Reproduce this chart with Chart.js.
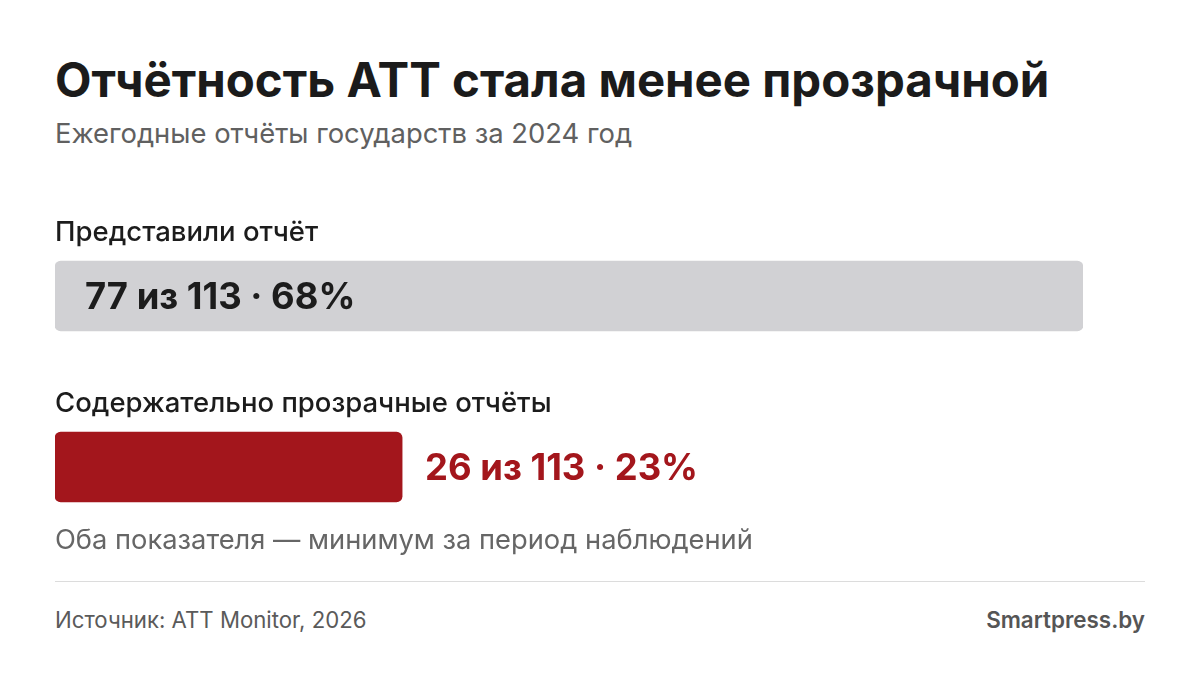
<!DOCTYPE html>
<html lang="ru">
<head>
<meta charset="utf-8">
<script src="https://cdn.jsdelivr.net/npm/chart.js@4.4.1/dist/chart.umd.min.js"></script>
<style>
  html, body { margin:0; padding:0; background:#fff; }
  body { width:1200px; height:685px; position:relative; overflow:hidden; font-family: Inter, "Noto Sans", sans-serif; }
  .t { position:absolute; left:55px; white-space:nowrap; line-height:1; }
  #title { top:56px; font-size:47.4px; font-weight:700; color:#1b1b1b; }
  #sub { top:120px; font-size:27.4px; color:#606060; }
  #note { top:526px; font-size:27.3px; color:#666; }
  #src { top:609px; font-size:22.2px; color:#5a5a5a; }
  #brand { top:609px; left:auto; right:55px; font-size:22.4px; font-weight:600; color:#555; }
  #rule { position:absolute; left:55px; right:55px; top:581px; height:1px; background:#dcdcdc; }
  #wrap { position:absolute; left:0; top:200px; width:1200px; height:360px; }
</style>
</head>
<body>
<div class="t" id="title">Отчётность ATT стала менее прозрачной</div>
<div class="t" id="sub">Ежегодные отчёты государств за 2024 год</div>
<div id="wrap"><canvas id="chart"></canvas></div>
<div class="t" id="note">Оба показателя — минимум за период наблюдений</div>
<div id="rule"></div>
<div class="t" id="src">Источник: ATT Monitor, 2026</div>
<div class="t" id="brand">Smartpress.by</div>
<script>
// data
const categories = ['Представили отчёт', 'Содержательно прозрачные отчёты'];
const counts = [77, 26];
const totals = [113, 113];
const percents = [68, 23];
const barColors = ['#d1d1d4', '#a3161c'];
const labelColors = ['#1c1c1c', '#a3161c'];

const valueText = i => `${counts[i]} из ${totals[i]} · ${percents[i]}%`;

// category label above each bar + value label inside (long bar) or after it (short bar)
const barLabels = {
  id: 'barLabels',
  afterDatasetsDraw(chart){
    const ctx = chart.ctx;
    const meta = chart.getDatasetMeta(0);
    const max = chart.scales.x.max;
    ctx.save();
    ctx.textAlign = 'left';
    ctx.textBaseline = 'alphabetic';
    meta.data.forEach((bar, i) => {
      const top = bar.y - bar.height/2;
      ctx.font = '500 27.5px Inter, sans-serif';
      ctx.fillStyle = '#1c1c1c';
      ctx.fillText(categories[i], bar.base, top - 20);

      ctx.font = '700 36.4px Inter, sans-serif';
      const inside = counts[i] > max / 2;
      ctx.fillStyle = labelColors[i];
      ctx.fillText(valueText(i), inside ? bar.base + 30 : bar.x + 23, bar.y + 13);
    });
    ctx.restore();
  }
};

new Chart(document.getElementById('chart'), {
  type: 'bar',
  data: {
    labels: categories,
    datasets: [{
      data: counts,
      backgroundColor: barColors,
      borderRadius: 6,
      borderSkipped: false,
      barThickness: 70
    }]
  },
  options: {
    indexAxis: 'y',
    responsive: true,
    maintainAspectRatio: false,
    animation: false,
    layout: { padding: { left: 55, right: 117, top: 10.5, bottom: 7.5 } },
    plugins: { legend: { display:false }, tooltip: { enabled:false } },
    scales: {
      x: { display:false, min:0, max: Math.max(...counts) },
      y: { display:false }
    }
  },
  plugins: [barLabels]
});
</script>
</body>
</html>
